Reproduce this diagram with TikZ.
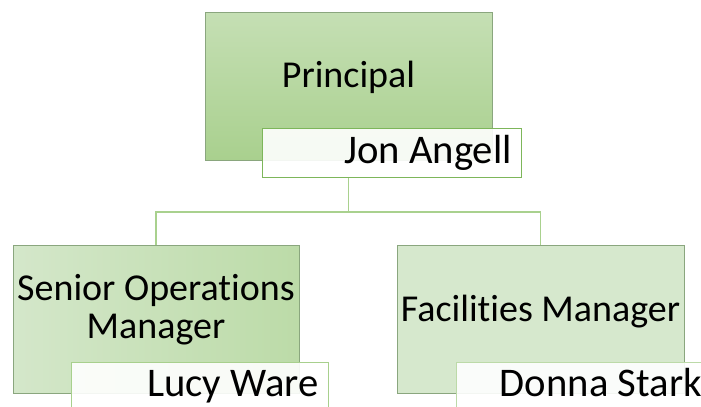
\documentclass[tikz,border=0pt]{standalone}
\usepackage{fontspec}
\setmainfont{Carlito}[RawFeature=-liga]
\usepackage{tikz}
\usetikzlibrary{calc}
\definecolor{prinTop}{HTML}{C5DFB4}
\definecolor{prinBot}{HTML}{A9D08E}
\definecolor{senL}{HTML}{D4E7CA}
\definecolor{senR}{HTML}{BCDBA8}
\definecolor{facFill}{HTML}{D6E8CD}
\definecolor{postLine}{HTML}{8AA67E}
\definecolor{jonLine}{HTML}{7DB65A}
\definecolor{lucyLine}{HTML}{A8D08D}
\definecolor{donnaLine}{HTML}{BCDAA8}
\definecolor{linkGreen}{HTML}{A9D18E}

\begin{document}
\begin{tikzpicture}[x=0.75pt,y=-0.75pt,
  post/.style={draw=postLine,line width=0.75pt,inner sep=0pt,outer sep=0pt,minimum height=111pt},
  namebox/.style={draw=#1,line width=0.75pt,fill=white,fill opacity=0.9,inner sep=0pt,outer sep=0pt,minimum height=36.75pt},
  link/.style={draw=linkGreen,line width=1.1pt},
  words/.style={font=\fontsize{28.5}{28.5}\selectfont,inner sep=0pt,text=black},
  namewords/.style={font=\fontsize{30.5}{31}\selectfont,inner sep=0pt,text=black,anchor=base east}]
\useasboundingbox (0,0) rectangle (701,407);
\clip (0,0) rectangle (701,407);
\coordinate (bus) at (348.5,212);
\node[post,top color=prinTop,bottom color=prinBot,minimum width=215.25pt] (prin) at (348.5,86) {};
\node[post,left color=senL,right color=senR,minimum width=214.5pt] (sen) at (156,319) {};
\node[post,fill=facFill,minimum width=215.25pt] (fac) at (540.5,319) {};
\draw[link] (prin.center |- 0,177) -- (bus) -| (sen.north);
\draw[link] (bus) -| (fac.north);
\node[namebox=jonLine,minimum width=194.25pt] (jon) at (391.5,152.5) {};
\node[namebox=lucyLine,minimum width=192.75pt] (lucy) at (199.5,386.5) {};
\node[namebox=donnaLine,minimum width=194.25pt] (donna) at (585.5,386.5) {};
\node[words,anchor=base] (prinT) at (348.5,87) {Principal};
\node[words,align=center] (senT) at (156,310) {Senior Operations\\Manager};
\node[words,anchor=base] (facT) at (540.5,321) {Facilities Manager};
\node[namewords] (jonT) at (512,163) {Jon Angell};
\node[namewords] (lucyT) at (319,396) {Lucy Ware};
\node[namewords] (donnaT) at (702,396) {Donna Stark};
\end{tikzpicture}
\end{document}
